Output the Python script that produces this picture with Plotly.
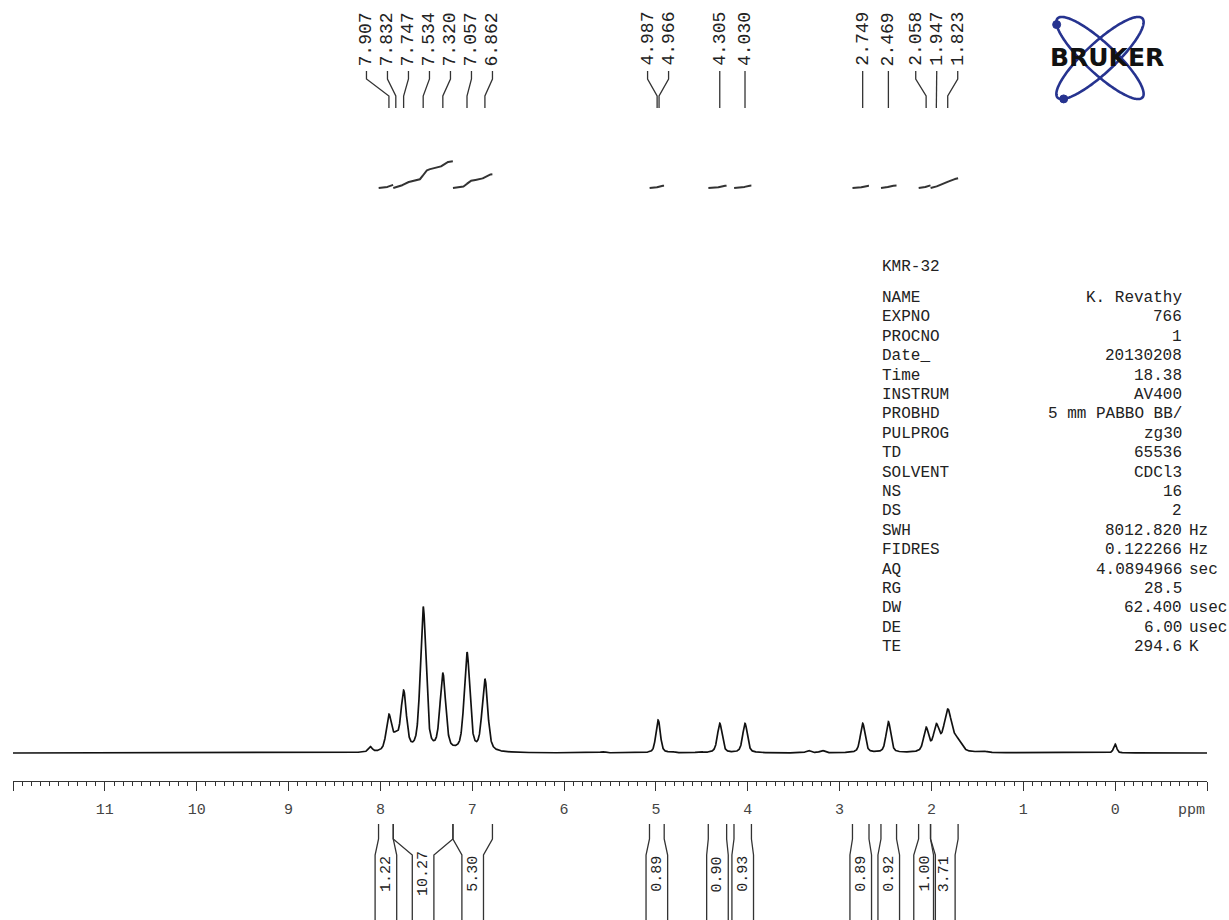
import numpy as np
import plotly.graph_objects as go

W, H = 1229, 920

# 1H peaks: shift (ppm), apex intensity (tallest = 100), half width (ppm)
peak_ppm = [8.11, 7.907, 7.832, 7.747, 7.534, 7.320, 7.057, 6.862, 5.58,
            4.987, 4.966, 4.83, 4.52, 4.305, 4.030, 3.34, 3.19,
            2.749, 2.469, 2.058, 1.947, 1.823, 1.72, 1.45, 0.00]
peak_height = [3.5, 24, 8, 40, 98, 52, 67, 49, 0.8,
               13, 13, 0.8, 0.8, 20, 20, 1.6, 1.6,
               20, 21, 16, 17, 28, 7, 1.0, 6]
peak_hw = [0.025, 0.034, 0.034, 0.035, 0.036, 0.036, 0.036, 0.036, 0.03,
           0.024, 0.024, 0.03, 0.03, 0.03, 0.03, 0.03, 0.03,
           0.03, 0.03, 0.032, 0.036, 0.05, 0.055, 0.05, 0.02]

# labelled shifts on top
label_ppm = [7.907, 7.832, 7.747, 7.534, 7.320, 7.057, 6.862,
             4.987, 4.966, 4.305, 4.030,
             2.749, 2.469, 2.058, 1.947, 1.823]

# integral regions and values
int_start = [8.02, 7.86, 7.21, 5.07, 4.43, 4.15, 2.86, 2.55, 2.14, 2.01]
int_end = [7.86, 7.21, 6.78, 4.91, 4.23, 3.96, 2.68, 2.38, 2.01, 1.71]
int_value = [1.22, 10.27, 5.30, 0.89, 0.90, 0.93, 0.89, 0.92, 1.00, 3.71]

axis_ticks = list(range(-1, 13))
axis_ticktext = ["" if t in (-1, 12) else str(t) for t in axis_ticks]

param_title = "KMR-32"
param_names = ["NAME", "EXPNO", "PROCNO", "Date_", "Time", "INSTRUM", "PROBHD",
               "PULPROG", "TD", "SOLVENT", "NS", "DS", "SWH", "FIDRES", "AQ",
               "RG", "DW", "DE", "TE"]
param_values = ["K. Revathy", "766", "1", "20130208", "18.38", "AV400",
                "5 mm PABBO BB/", "zg30", "65536", "CDCl3", "16", "2",
                "8012.820", "0.122266", "4.0894966", "28.5", "62.400", "6.00",
                "294.6"]
param_units = ["", "", "", "", "", "", "", "", "", "", "", "", "Hz", "Hz",
               "sec", "", "usec", "usec", "K"]

# ---- page geometry (pixels) ----
X0, X1 = 13, 1207
PPM_L, PPM_R = 12.0, -1.0
PX_PER_PPM = (X1 - X0) / (PPM_L - PPM_R)
Y_AXIS = 781
Y_BASE = 753
PX_PER_UNIT = 1.47       # spectrum intensity scale
INT_BASE = 188
PX_PER_INT = 2.6         # integral curve scale
ROW0, ROW_STEP = 298, 19.4
MONO = "Liberation Mono, Courier New, monospace"
INK = "#222222"
ETA = 0.5                # lorentzian share of the line shape


def ppm2px(p):
    return X0 + (PPM_L - p) * PX_PER_PPM


def px2ppm(x):
    return PPM_L - (x - X0) / PX_PER_PPM


def spread(pxs, gap):
    groups = [[p] for p in pxs]
    while True:
        pos = []
        for g in groups:
            c = np.mean(g)
            n = len(g)
            pos.append([c + (i - (n - 1) / 2) * gap for i in range(n)])
        merged = False
        for i in range(len(groups) - 1):
            if pos[i + 1][0] - pos[i][-1] < gap:
                groups[i] = groups[i] + groups[i + 1]
                del groups[i + 1]
                merged = True
                break
        if not merged:
            return [p for g in pos for p in g]


# spectrum from the peak list (pseudo-voigt lines)
xs = np.linspace(PPM_L, PPM_R, 9000)
ys = np.zeros_like(xs)
for p, h, w in zip(peak_ppm, peak_height, peak_hw):
    d = xs - p
    lor = w**2 / (w**2 + d**2)
    gau = np.exp(-np.log(2) * (d / w)**2)
    ys += h * (ETA * lor + (1 - ETA) * gau)

fig = go.Figure()
fig.add_trace(go.Scatter(x=xs, y=ys, mode="lines",
                         line=dict(color="#111111", width=1.7),
                         hoverinfo="skip", showlegend=False))

# integral curves (top)
for s, e, v in zip(int_start, int_end, int_value):
    m = (xs <= s) & (xs >= e)
    seg_x = xs[m]
    seg_y = ys[m]
    cum = np.concatenate([[0], np.cumsum((seg_y[1:] + seg_y[:-1]) / 2)])
    fig.add_trace(go.Scatter(x=seg_x, y=v * cum / cum[-1], mode="lines", yaxis="y2",
                             line=dict(color="#333333", width=2),
                             hoverinfo="skip", showlegend=False))

# peak label leaders
lab_px = spread([ppm2px(p) for p in label_ppm], 21)
lx, ly = [], []
for p, lp in zip(label_ppm, lab_px):
    lpp = px2ppm(lp)
    lx += [lpp, lpp, p, p, None]
    ly += [71, 79, 96, 108, None]
fig.add_trace(go.Scatter(x=lx, y=ly, mode="lines", yaxis="y3",
                         line=dict(color="#333333", width=1.3),
                         hoverinfo="skip", showlegend=False))
for p, lp in zip(label_ppm, lab_px):
    fig.add_annotation(x=px2ppm(lp), y=68, xref="x", yref="y3", text=f"{p:.3f}",
                       textangle=-90, showarrow=False, xanchor="center",
                       yanchor="bottom", font=dict(family=MONO, size=18, color=INK))

# integral brackets (bottom)
half = 10.8 / PX_PER_PPM
bx, by = [], []
for s, e, v in zip(int_start, int_end, int_value):
    c = (s + e) / 2
    bx += [s, s, c + half, c + half, None, e, e, c - half, c - half, None]
    by += [824, 839, 855, 925, None, 824, 839, 855, 925, None]
    fig.add_annotation(x=c, y=874, xref="x", yref="y3", text=f"{v:.2f}",
                       textangle=-90, showarrow=False, xanchor="center",
                       yanchor="middle", font=dict(family=MONO, size=15, color=INK))
fig.add_trace(go.Scatter(x=bx, y=by, mode="lines", yaxis="y3",
                         line=dict(color="#333333", width=1.3),
                         hoverinfo="skip", showlegend=False))

# parameter block
fig.add_annotation(x=880 / W, y=1 - 267 / H, xref="paper", yref="paper",
                   text=param_title, showarrow=False, xanchor="left",
                   yanchor="middle", font=dict(family=MONO, size=16, color=INK))
for i, (n, v, u) in enumerate(zip(param_names, param_values, param_units)):
    yy = 1 - (ROW0 + i * ROW_STEP) / H
    fig.add_annotation(x=880 / W, y=yy, xref="paper", yref="paper", text=n,
                       showarrow=False, xanchor="left", yanchor="middle",
                       font=dict(family=MONO, size=16, color=INK))
    fig.add_annotation(x=1184 / W, y=yy, xref="paper", yref="paper", text=v,
                       showarrow=False, xanchor="right", yanchor="middle",
                       font=dict(family=MONO, size=16, color=INK))
    if u:
        fig.add_annotation(x=1187 / W, y=yy, xref="paper", yref="paper", text=u,
                           showarrow=False, xanchor="left", yanchor="middle",
                           font=dict(family=MONO, size=16, color=INK))

# ppm unit label
fig.add_annotation(x=PPM_R, y=1 - 810 / H, xref="x", yref="paper", text="ppm",
                   showarrow=False, xanchor="right", yanchor="middle",
                   font=dict(family=MONO, size=15, color="#444444"))

# Bruker logo
cx, cy, a, b = 1100, 58, 58, 15
t = np.linspace(0, 2 * np.pi, 200)
navy = "#26338f"
for ang in (np.radians(43), np.radians(-43)):
    ex = cx + a * np.cos(t) * np.cos(ang) - b * np.sin(t) * np.sin(ang)
    ey = cy + a * np.cos(t) * np.sin(ang) + b * np.sin(t) * np.cos(ang)
    path = "M " + " L ".join(f"{x / W:.5f},{1 - y / H:.5f}" for x, y in zip(ex, ey)) + " Z"
    fig.add_shape(type="path", path=path, xref="paper", yref="paper",
                  line=dict(color=navy, width=2.6))
    tt = np.pi - 0.35
    dx = cx + a * np.cos(tt) * np.cos(ang) - b * np.sin(tt) * np.sin(ang)
    dy = cy + a * np.cos(tt) * np.sin(ang) + b * np.sin(tt) * np.cos(ang)
    fig.add_shape(type="circle", xref="paper", yref="paper",
                  x0=(dx - 4) / W, x1=(dx + 4) / W, y0=1 - (dy + 4) / H, y1=1 - (dy - 4) / H,
                  fillcolor=navy, line=dict(color=navy, width=1))
fig.add_annotation(x=1107 / W, y=1 - 58 / H, xref="paper", yref="paper",
                   text="<b>BRUKER</b>", showarrow=False, xanchor="center",
                   yanchor="middle",
                   font=dict(family="DejaVu Sans", size=25, color="#111111"))

fig.update_layout(
    width=W, height=H,
    margin=dict(l=0, r=0, t=0, b=0),
    paper_bgcolor="white", plot_bgcolor="white",
    showlegend=False,
    xaxis=dict(range=[PPM_L, PPM_R], domain=[X0 / W, X1 / W],
               anchor="free", position=1 - Y_AXIS / H,
               showline=True, linecolor="#333333", linewidth=1.3,
               ticks="outside", ticklen=9, tickwidth=1.3, tickcolor="#333333",
               tickmode="array", tickvals=axis_ticks, ticktext=axis_ticktext,
               ticklabelstandoff=5,
               tickfont=dict(family=MONO, size=15, color="#444444"),
               minor=dict(dtick=0.1, tick0=0, ticks="outside", ticklen=4,
                          tickwidth=1, tickcolor="#333333", showgrid=False),
               showgrid=False, zeroline=False, automargin=False),
    yaxis=dict(range=[-(H - Y_BASE) / PX_PER_UNIT, Y_BASE / PX_PER_UNIT],
               visible=False, domain=[0, 1]),
    yaxis2=dict(range=[-(H - INT_BASE) / PX_PER_INT, INT_BASE / PX_PER_INT],
                visible=False, overlaying="y"),
    yaxis3=dict(range=[H, 0], visible=False, overlaying="y"),
)

fig.write_html("out.html", config={"displayModeBar": False},
               post_script="document.body.style.margin='0';"
                           "document.body.style.overflow='hidden';")
